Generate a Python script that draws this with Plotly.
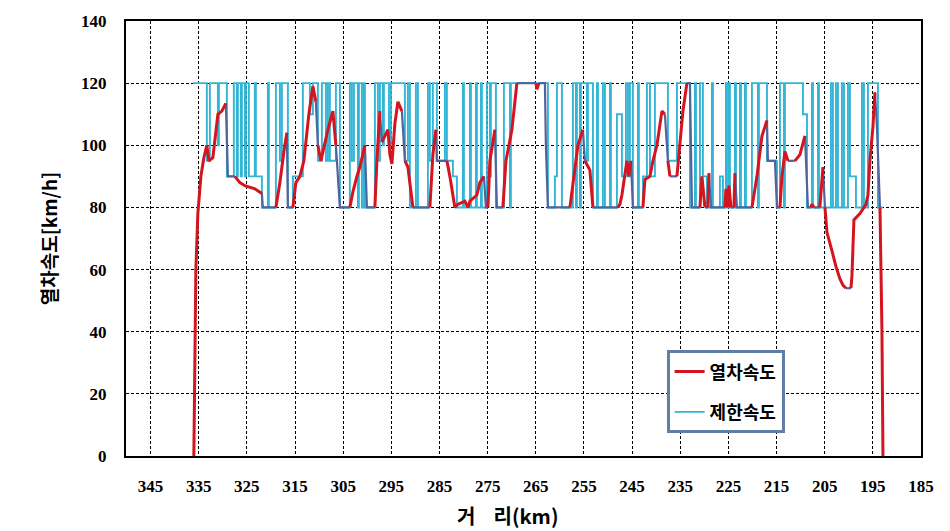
import plotly.graph_objects as go

# ---------------- data ----------------
# train running speed along the line (distance km, speed km/h)
train_km = [336.01, 335.80, 335.59, 335.18, 334.55, 333.93, 333.31, 332.89, 332.06, 331.02,
            330.19, 329.36, 328.94, 327.49, 326.45, 325.41, 323.34, 321.88, 321.68, 318.97,
            318.14, 317.31, 316.69, 316.48, 315.44, 314.82, 313.99, 313.16, 312.12, 311.29,
            310.67, 310.25, 309.63, 308.17, 307.14, 306.51, 305.68, 303.61, 302.98, 302.15,
            301.53, 300.49, 300.07, 298.41, 298.00, 297.37, 296.96, 295.71, 295.30, 294.88,
            294.26, 293.63, 292.80, 292.18, 291.56, 290.52, 286.99, 286.37, 285.74, 285.54,
            283.46, 282.84, 281.80, 281.17, 279.72, 279.10, 278.68, 277.23, 276.61, 275.77,
            275.36, 274.94, 274.53, 273.49, 273.07, 271.83, 271.20, 269.96, 268.92, 264.97,
            264.76, 264.35, 263.10, 262.90, 262.48, 257.91, 257.29, 256.25, 255.42, 255.21,
            254.80, 253.76, 253.13, 247.94, 247.53, 247.11, 246.49, 246.07, 245.66, 245.24,
            244.83, 242.75, 242.33, 241.29, 240.67, 239.84, 238.80, 238.18, 237.56, 237.14,
            235.69, 235.06, 234.44, 233.61, 232.99, 232.57, 230.91, 230.50, 229.87, 229.25,
            229.04, 228.62, 225.72, 225.51, 225.09, 224.89, 224.47, 223.85, 223.64, 223.23,
            220.11, 219.07, 218.03, 217.62, 216.99, 216.79, 215.33, 214.92, 214.29, 213.88,
            213.26, 212.63, 211.18, 210.14, 209.10, 208.48, 207.86, 207.65, 207.23, 206.01,
            205.36, 204.95, 204.53, 203.49, 202.66, 201.83, 201.21, 200.59, 199.55, 199.34,
            198.93, 197.68, 196.43, 196.02, 195.61, 194.98, 194.56, 194.15, 193.52, 193.11,
            192.90]
train_kmh = [0, 40, 60, 78, 90, 96, 100, 95, 96, 110,
             111, 113.5, 90, 90, 88, 87, 86, 84.5, 80, 80,
             88, 98, 104, 80, 80, 88, 90, 95, 110, 119,
             114, 100, 95, 105, 111, 100, 80, 80, 85, 90,
             93, 100, 80, 80, 95, 111, 101, 105, 97, 94,
             107, 114, 111, 95, 93, 80, 80, 97, 105, 95,
             95, 90, 80, 81, 82, 80, 82, 84, 88, 90,
             80, 80, 95, 105, 80, 80, 95, 105, 120, 120,
             118, 120, 120, 100, 80, 80, 88, 100, 104, 105,
             95, 92, 80, 80, 81, 84, 90, 95, 90, 95,
             80, 80, 89, 90, 95, 100, 111, 110, 95, 90,
             90, 100, 111, 120, 120, 80, 80, 90, 80, 80,
             91, 80, 80, 86, 80, 87, 80, 80, 91, 80,
             80, 90, 103, 105, 108, 95, 95, 80, 80, 90,
             98, 95, 95, 97, 103, 80, 80, 81, 80, 80,
             93, 80, 72, 66, 61, 57, 55, 54, 54, 58,
             76, 78, 81, 84, 95, 106, 117, 106, 80, 40,
             0]

# line speed limit (value holds from each km point onward)
limit_km = [336.21, 333.31, 332.68, 331.02, 330.81, 329.15, 327.70, 327.08, 326.87, 326.24,
            326.04, 325.41, 325.21, 324.58, 323.34, 323.13, 321.88, 320.64, 320.43, 318.97,
            318.14, 317.73, 316.48, 315.44, 313.37, 311.91, 311.29, 310.25, 309.42, 308.59,
            308.17, 307.76, 306.51, 305.68, 303.61, 303.19, 302.77, 301.94, 301.73, 301.11,
            300.70, 300.49, 298.41, 297.79, 297.37, 296.75, 296.54, 295.50, 295.09, 292.18,
            291.56, 291.14, 289.90, 289.48, 287.40, 286.99, 286.37, 285.54, 283.87, 283.46,
            282.21, 281.38, 280.14, 279.93, 278.68, 278.47, 277.43, 277.23, 276.40, 276.19,
            275.15, 274.53, 274.32, 273.28, 271.62, 270.37, 270.17, 262.48, 261.03, 260.61,
            259.57, 257.29, 256.66, 256.46, 255.83, 255.63, 254.38, 254.17, 253.13, 252.30,
            252.09, 251.06, 250.64, 249.60, 249.40, 248.15, 247.11, 246.28, 245.86, 245.45,
            244.83, 243.79, 243.58, 242.75, 241.92, 241.29, 240.26, 237.56, 235.69, 232.99,
            231.95, 231.74, 230.91, 230.29, 229.46, 228.42, 228.21, 226.76, 226.13, 225.51,
            225.30, 224.89, 224.68, 223.64, 223.43, 222.60, 222.39, 221.56, 221.36, 220.11,
            218.87, 218.66, 216.99, 214.92, 214.29, 213.46, 213.26, 209.52, 208.68, 207.65,
            207.44, 206.40, 206.19, 203.70, 203.29, 202.66, 202.25, 201.42, 201.00, 200.17,
            199.76, 198.51, 197.26, 196.85, 196.02, 193.94, 192.90]
limit_kmh = [120, 95, 120, 100, 120, 90, 120, 90, 120, 90,
             120, 90, 120, 90, 120, 90, 80, 120, 80, 120,
             95, 120, 80, 90, 120, 110, 120, 95, 120, 95,
             120, 95, 120, 80, 120, 95, 120, 80, 120, 80,
             120, 80, 120, 95, 120, 100, 120, 100, 120, 95,
             120, 80, 120, 80, 120, 95, 120, 95, 120, 95,
             90, 80, 120, 80, 120, 80, 120, 80, 120, 80,
             120, 90, 120, 80, 120, 80, 120, 80, 90, 120,
             80, 120, 80, 120, 80, 120, 95, 120, 80, 120,
             80, 120, 80, 120, 80, 110, 90, 120, 90, 120,
             80, 120, 80, 90, 120, 90, 120, 95, 120, 80,
             120, 80, 120, 90, 80, 120, 80, 90, 80, 120,
             80, 120, 80, 120, 80, 120, 80, 120, 80, 120,
             80, 120, 95, 80, 120, 80, 120, 110, 80, 120,
             80, 120, 80, 120, 80, 120, 80, 120, 80, 120,
             90, 80, 120, 80, 120, 80, 80]

x_ticks = [345, 335, 325, 315, 305, 295, 285, 275, 265, 255, 245, 235, 225, 215, 205, 195, 185]
y_ticks = [0, 20, 40, 60, 80, 100, 120, 140]

# ---------------- split train curve: braking / held-at-limit parts vs. running parts ----------------
red_x, red_y, sl_x, sl_y = [], [], [], []
for i in range(len(train_km) - 1):
    k1, k2 = train_km[i], train_km[i + 1]
    v1, v2 = train_kmh[i], train_kmh[i + 1]
    rate = (v1 - v2) / abs(k1 - k2)
    held = (v1 == v2) or (rate > 20 and v2 >= 80)
    tx, ty = (sl_x, sl_y) if held else (red_x, red_y)
    if tx and tx[-1] == k1:
        tx.append(k2); ty.append(v2)
    else:
        if tx:
            tx.append(None); ty.append(None)
        tx += [k1, k2]; ty += [v1, v2]

KR = "Noto Sans CJK KR"
SERIF = "Liberation Serif"

fig = go.Figure()
fig.add_trace(go.Scatter(x=limit_km, y=limit_kmh, mode="lines", name="제한속도",
                         line=dict(color="#33b5d6", width=1.9, shape="hv"),
                         legendgroup="b", legendrank=2))
fig.add_trace(go.Scatter(x=sl_x, y=sl_y, mode="lines", showlegend=False,
                         line=dict(color="#52629c", width=2.2), connectgaps=False))
fig.add_trace(go.Scatter(x=red_x, y=red_y, mode="lines", name="열차속도",
                         line=dict(color="#d4141e", width=3), connectgaps=False,
                         legendgroup="a", legendrank=1))

grid = dict(showgrid=True, gridcolor="black", gridwidth=1, griddash="3px,2px")
fig.update_xaxes(range=[350.1, 185], tickmode="array", tickvals=x_ticks,
                 ticktext=[str(v) for v in x_ticks],
                 showline=True, mirror=True, linecolor="black", linewidth=2,
                 ticks="", ticklabelstandoff=14, zeroline=False,
                 tickfont=dict(family=SERIF, size=17, color="black", weight="bold"),
                 **grid)
fig.update_yaxes(range=[0, 140], tickmode="array", tickvals=y_ticks,
                 showline=True, mirror=True, linecolor="black", linewidth=2,
                 ticks="", ticklabelstandoff=14, zeroline=False,
                 tickfont=dict(family=SERIF, size=17, color="black", weight="bold"),
                 title=dict(text="열차속도[km/h]", standoff=18,
                            font=dict(family=KR, size=19, color="black", weight="bold")),
                 **grid)

fig.add_annotation(text="거\u00a0\u00a0\u00a0\u00a0리(km)", xref="paper", yref="paper",
                   x=(507 - 126) / 795, y=-0.136, xanchor="center", yanchor="middle",
                   showarrow=False,
                   font=dict(family=KR, size=20, color="black", weight="bold"))

fig.update_layout(
    width=950, height=531,
    margin=dict(l=126, r=29, t=21, b=75),
    paper_bgcolor="white", plot_bgcolor="white",
    legend=dict(x=0.68, y=0.243, xanchor="left", yanchor="top",
                bgcolor="white", bordercolor="#5f7fa6", borderwidth=3,
                font=dict(family=KR, size=18, color="black", weight="bold"),
                tracegroupgap=14, itemwidth=30,
                traceorder="grouped"),
    showlegend=True,
)

fig.write_html("out.html")
